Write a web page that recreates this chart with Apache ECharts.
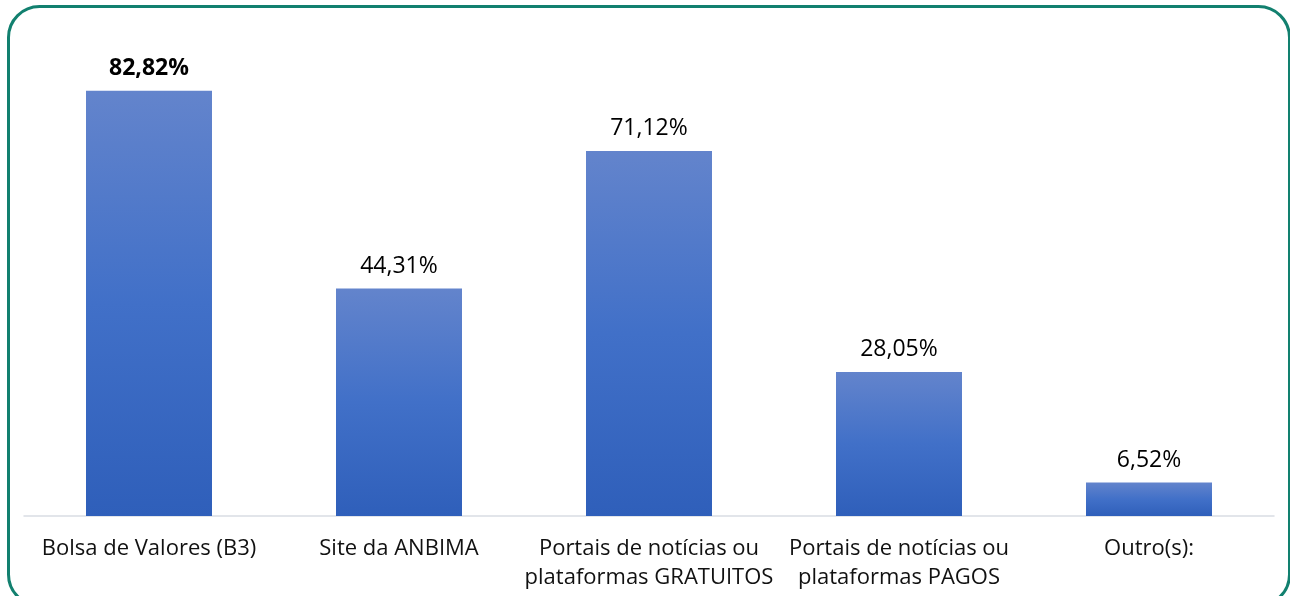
<!DOCTYPE html>
<html><head><meta charset="utf-8">
<script src="https://cdn.jsdelivr.net/npm/echarts@6/dist/echarts.min.js"></script>
<style>html,body{margin:0;padding:0;background:#fff}#c{width:1290px;height:596px}</style>
</head><body><div id="c"></div>
<script>
const categories = ['Bolsa de Valores (B3)', 'Site da ANBIMA', 'Portais de notícias ou\nplataformas GRATUITOS', 'Portais de notícias ou\nplataformas PAGOS', 'Outro(s):'];
const values = [82.82, 44.31, 71.12, 28.05, 6.52];
const valueLabels = ['82,82%', '44,31%', '71,12%', '28,05%', '6,52%'];

const chart = echarts.init(document.getElementById('c'), null, {renderer: 'canvas'});
const FONT = '"Open Sans", "Noto Sans", sans-serif';
chart.setOption({
  animation: false,
  grid: {left: 24, right: 16, top: 54, bottom: 80, containLabel: false},
  xAxis: {
    type: 'category', data: categories,
    axisLine: {lineStyle: {color: '#D9DDE4', width: 1.5}},
    axisTick: {show: false},
    axisLabel: {color: '#111', fontFamily: FONT, fontSize: 22, lineHeight: 29, margin: 18, interval: 0}
  },
  yAxis: {type: 'value', min: 0, max: 90, show: false, splitLine: {show: false}},
  series: [{
    type: 'bar', barWidth: 126,
    data: values.map((v, i) => ({
      value: v,
      label: i === 0 ? {fontWeight: 'bold'} : {}
    })),
    itemStyle: {
      color: new echarts.graphic.LinearGradient(0, 0, 0, 1, [
        {offset: 0, color: '#6384CC'},
        {offset: 0.5, color: '#4170C8'},
        {offset: 1, color: '#2F5FBA'}
      ])
    },
    label: {
      show: true, position: 'top', distance: 11,
      color: '#000', fontFamily: FONT, fontSize: 23,
      formatter: p => valueLabels[p.dataIndex]
    }
  }],
  graphic: [{
    type: 'rect', left: 6, top: 4, silent: true, z: 100,
    shape: {width: 1281, height: 599, r: 31},
    style: {fill: 'none', stroke: '#12806F', lineWidth: 3}
  }]
});
</script></body></html>
